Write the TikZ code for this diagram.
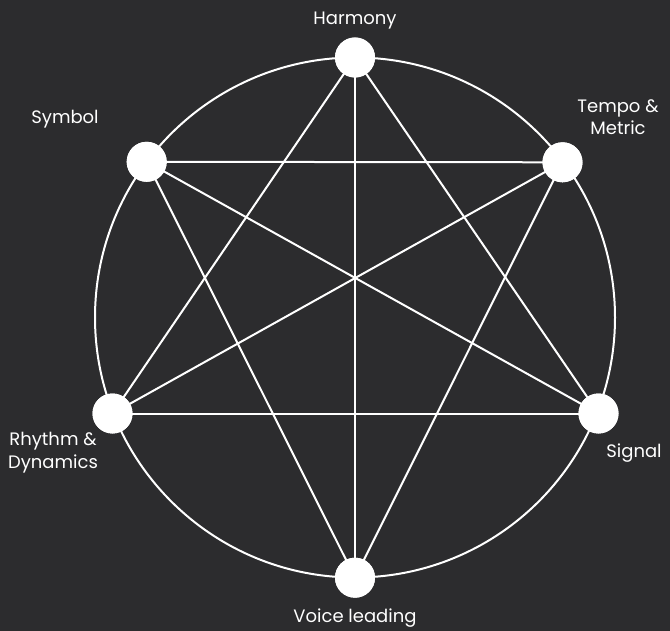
\documentclass[tikz,border=0pt]{standalone}
\usepackage{fontspec}
\setmainfont{Poppins}
\definecolor{bg}{RGB}{44,44,46}
\begin{document}
\begin{tikzpicture}[x=1pt,y=-1pt,
  vtx/.style={circle,fill=white,draw=none,minimum size=40pt,inner sep=0pt},
  edge/.style={draw=white,line width=2pt},
  lbl/.style={text=white,font=\fontsize{18}{22.7}\selectfont,anchor=base,align=center,inner sep=0pt}]
\fill[bg] (0,0) rectangle (670,631);
\useasboundingbox (0,0) rectangle (670,631);
\coordinate (c) at (355,317.5);
\draw[edge] (c) circle[radius=260pt];
\node[vtx] (har) at (355,57.5) {};
\node[vtx] (tem) at (562.5,162.3) {};
\node[vtx] (sig) at (598.5,413.5) {};
\node[vtx] (voi) at (355,577.7) {};
\node[vtx] (rhy) at (112.5,413.5) {};
\node[vtx] (sym) at (146.7,161.8) {};
\draw[edge] (har.center) -- (rhy.center);
\draw[edge] (har.center) -- (sig.center);
\draw[edge] (har.center) -- (voi.center);
\draw[edge] (sym.center) -- (tem.center);
\draw[edge] (sym.center) -- (sig.center);
\draw[edge] (sym.center) -- (voi.center);
\draw[edge] (tem.center) -- (rhy.center);
\draw[edge] (tem.center) -- (voi.center);
\draw[edge] (rhy.center) -- (sig.center);
\node[vtx] at (har) {};
\node[vtx] at (tem) {};
\node[vtx] at (sig) {};
\node[vtx] at (voi) {};
\node[vtx] at (rhy) {};
\node[vtx] at (sym) {};
\node[lbl] (lhar) at (355,25) {Harmony};
\node[lbl] (ltem) at (618,135) {Tempo \&\\Metric};
\node[lbl] (lsig) at (634,457.3) {Signal};
\node[lbl] (lvoi) at (355,622.3) {Voice leading};
\node[lbl] (lrhy) at (53,468.3) {Rhythm \&\\Dynamics};
\node[lbl] (lsym) at (65,124) {Symbol};
\end{tikzpicture}
\end{document}
